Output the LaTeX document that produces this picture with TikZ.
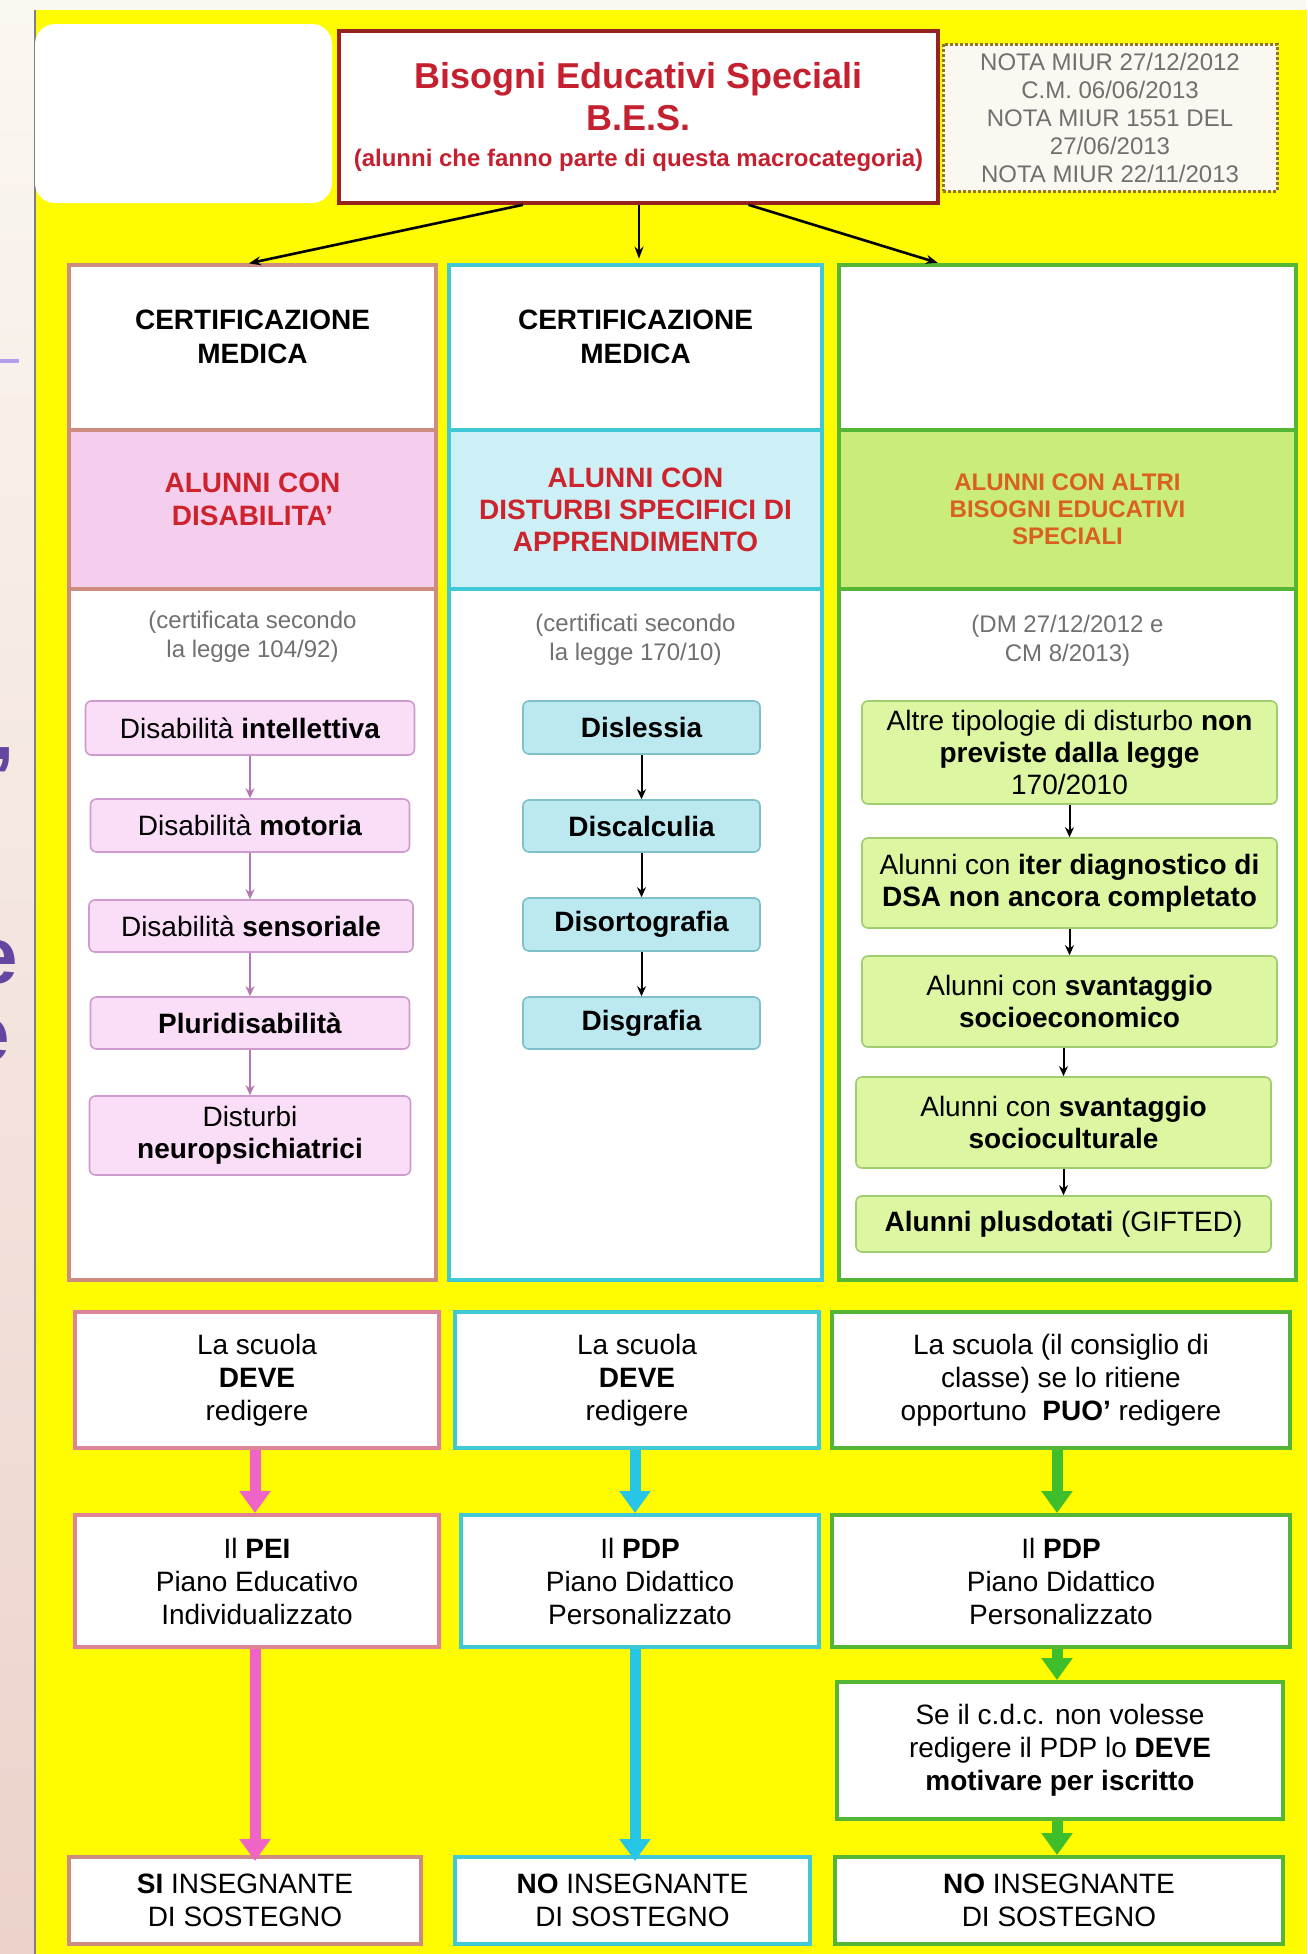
\documentclass[tikz,border=0pt]{standalone}
\usepackage{fontspec}
\setmainfont{Liberation Sans}
\usetikzlibrary{arrows.meta}

\definecolor{giallo}{RGB}{255,251,0}
\definecolor{fondo}{RGB}{251,247,241}
\definecolor{fondorosa}{RGB}{236,210,203}
\definecolor{rossotitolo}{RGB}{196,32,48}
\definecolor{bordotitolo}{RGB}{150,35,30}
\definecolor{bordonota}{RGB}{145,118,40}
\definecolor{grigio}{RGB}{112,112,112}
\definecolor{rossobanda}{RGB}{205,35,45}
\definecolor{arancio}{RGB}{218,96,30}
\definecolor{viola}{RGB}{100,70,160}
\definecolor{violachiaro}{RGB}{178,158,236}
\definecolor{rosa}{RGB}{205,140,128}
\definecolor{rosafascia}{RGB}{246,206,237}
\definecolor{rosabox}{RGB}{250,222,247}
\definecolor{rosabordo}{RGB}{205,155,205}
\definecolor{rosafreccina}{RGB}{180,120,175}
\definecolor{rosafreccia}{RGB}{240,100,200}
\definecolor{rosariquadro}{RGB}{222,132,150}
\definecolor{ciano}{RGB}{64,200,214}
\definecolor{cianofascia}{RGB}{204,240,246}
\definecolor{cianobox}{RGB}{188,233,239}
\definecolor{cianobordo}{RGB}{125,192,202}
\definecolor{cianofreccia}{RGB}{40,198,230}
\definecolor{verde}{RGB}{84,182,52}
\definecolor{verdefascia}{RGB}{202,236,122}
\definecolor{verdebox}{RGB}{220,246,162}
\definecolor{verdebordo}{RGB}{160,205,112}
\definecolor{verdefreccia}{RGB}{62,190,42}

\begin{document}
\begin{tikzpicture}[x=0.5pt,y=0.5pt,yscale=-1,xscale=1,
		every node/.style={inner sep=0.75pt, align=center},
		titolo/.style={draw=bordotitolo, line width=1.8pt, fill=white, minimum width=299.5pt, minimum height=86pt, text=rossotitolo, font=\bfseries\fontsize{18}{21}\selectfont},
		nota/.style={draw=bordonota, line width=1.5pt, dash pattern=on 1.5pt off 1pt, fill=fondo, minimum width=167pt, minimum height=73.5pt, text=grigio, font=\fontsize{12}{14}\selectfont},
		intestazione/.style={minimum width=#1, minimum height=82.5pt, font=\bfseries\fontsize{14}{17}\selectfont},
		banda/.style={line width=1.8pt, minimum height=79.5pt, text=rossobanda, font=\bfseries\fontsize{14}{16.5}\selectfont},
		legge/.style={text=grigio, font=\fontsize{12}{14.5}\selectfont},
		voce/.style={draw=#1bordo, fill=#1box, rounded corners=3pt, line width=0.8pt, inner sep=0pt, font=\fontsize{14}{16}\selectfont},
		riquadro/.style={draw=#1, fill=white, line width=2pt, inner sep=0pt, font=\fontsize{14}{16.5}\selectfont},
		collega/.style={-{Stealth[length=6pt,width=4.5pt]}, line width=1.3pt, shorten >=3pt},
		freccina/.style={-{Stealth[length=5pt,width=4.5pt]}, line width=1pt},
		freccione/.style={line width=5.5pt, -{Triangle[width=15pt,length=11pt]}}]
		\useasboundingbox (0,0) rectangle (1307,1954);

		% Background: pale page, shaded strip on the left and the yellow sheet
		\fill[fondo] (0,0) rectangle (1307,1954);
		\shade[top color=fondo, bottom color=fondorosa] (0,0) rectangle (35,1954);
		\fill[giallo] (35,10) rectangle (1307,1954);
		\draw[gray, line width=0.8pt] (35,10) -- (35,1954);

		% Cut off letters at the left edge
		\begin{scope}
			\clip (0,0) rectangle (35,1954);
			\draw[violachiaro, line width=1.6pt] (0,361) -- (19,361);
			\node[text=viola, font=\bfseries\fontsize{40}{40}\selectfont] (virgola) at (4,760) {,};
			\node[text=viola, font=\bfseries\fontsize{40}{40}\selectfont] (lettera1) at (-4,962) {e};
			\node[text=viola, font=\bfseries\fontsize{40}{40}\selectfont] (lettera2) at (-12,1040) {e};
		\end{scope}

		% Whited out patch at the top left
		\fill[white, rounded corners=10pt] (35,24) rectangle (332,203);

		% Title and the note with the references
		\node[titolo] (bes) at (638.5,117) {Bisogni Educativi Speciali\\B.E.S.\\[-3pt]{\fontsize{12}{14}\selectfont (alunni che fanno parte di questa macrocategoria)}};
		\node[nota] (nota) at (1110,117.5) {NOTA MIUR 27/12/2012\\C.M. 06/06/2013\\NOTA MIUR 1551 DEL\\27/06/2013\\NOTA MIUR 22/11/2013};

		% Columns: white body with a coloured frame
		\fill[white] (69,265) rectangle (436,1280);
		\fill[white] (449,265) rectangle (822,1280);
		\fill[white] (839,265) rectangle (1296,1280);

		% Coloured bands
		\node[banda, draw=rosa, fill=rosafascia, minimum width=183.5pt] (banda1) at (252.5,509.5) {ALUNNI CON\\DISABILITA'\\[-11pt]\strut};
		\node[banda, draw=ciano, fill=cianofascia, minimum width=186.5pt, font=\bfseries\fontsize{14}{16}\selectfont] (banda2) at (635.5,509.5) {ALUNNI CON\\DISTURBI SPECIFICI DI\\APPRENDIMENTO};
		\node[banda, draw=verde, fill=verdefascia, minimum width=228.5pt, text=arancio, font=\bfseries\fontsize{12}{13.5}\selectfont] (banda3) at (1067.5,509.5) {ALUNNI CON ALTRI\\BISOGNI EDUCATIVI\\SPECIALI};

		% Frames of the columns
		\draw[rosa, line width=1.8pt] (69,265) rectangle (436,1280);
		\draw[ciano, line width=1.8pt] (449,265) rectangle (822,1280);
		\draw[verde, line width=1.8pt] (839,265) rectangle (1296,1280);

		% Header cells
		\node[intestazione=183.5pt] (testa1) at (252.5,347.5) {CERTIFICAZIONE\\MEDICA\\[-11pt]\strut};
		\node[intestazione=186.5pt] (testa2) at (635.5,347.5) {CERTIFICAZIONE\\MEDICA\\[-11pt]\strut};
		\node[intestazione=228.5pt] (testa3) at (1067.5,347.5) {};

		% Arrows from the title to the columns
		\draw[collega] ([xshift=-57.75pt]bes.south) -- ([xshift=-4.75pt]testa1.north);
		\draw[collega] ([xshift=0.25pt]bes.south) -- ([xshift=1.75pt]testa2.north);
		\draw[collega] ([xshift=55pt]bes.south) -- ([xshift=-62pt]testa3.north);

		% Laws under the bands
		\node[legge] (legge1) at (252.5,637) {(certificata secondo\\la legge 104/92)};
		\node[legge] (legge2) at (635.5,640) {(certificati secondo\\la legge 170/10)};
		\node[legge] (legge3) at (1067.5,641) {(DM 27/12/2012 e\\CM 8/2013)};

		% First column: kinds of disability
		\node[voce=rosa, minimum width=164.5pt, minimum height=27pt] (intellettiva) at (250,728) {Disabilità \textbf{intellettiva}};
		\node[voce=rosa, minimum width=159.5pt, minimum height=26.5pt] (motoria) at (250,825.5) {Disabilità \textbf{motoria}};
		\node[voce=rosa, minimum width=162pt, minimum height=26pt] (sensoriale) at (251,926) {Disabilità \textbf{sensoriale}};
		\node[voce=rosa, minimum width=159.5pt, minimum height=26pt] (pluri) at (250,1023) {\textbf{Pluridisabilità}};
		\node[voce=rosa, minimum width=160.5pt, minimum height=39.5pt] (neuro) at (250,1135.5) {Disturbi\\\textbf{neuropsichiatrici}};
		\draw[freccina, rosafreccina] (intellettiva) -- (motoria);
		\draw[freccina, rosafreccina] (motoria) -- (sensoriale.north -| motoria);
		\draw[freccina, rosafreccina] (sensoriale.south -| motoria) -- (pluri);
		\draw[freccina, rosafreccina] (pluri) -- (neuro);

		% Second column: specific learning disorders
		\node[voce=ciano, minimum width=118.5pt, minimum height=26.5pt, font=\bfseries\fontsize{14}{16}\selectfont] (dislessia) at (641.5,727.5) {Dislessia};
		\node[voce=ciano, minimum width=118.5pt, minimum height=26pt, font=\bfseries\fontsize{14}{16}\selectfont] (discalculia) at (641.5,826) {Discalculia};
		\node[voce=ciano, minimum width=118.5pt, minimum height=26.5pt, font=\bfseries\fontsize{14}{16}\selectfont] (disortografia) at (641.5,924.5) {Disortografia};
		\node[voce=ciano, minimum width=118.5pt, minimum height=26pt, font=\bfseries\fontsize{14}{16}\selectfont] (disgrafia) at (641.5,1023) {Disgrafia};
		\draw[freccina] (dislessia) -- (discalculia);
		\draw[freccina] (discalculia) -- (disortografia);
		\draw[freccina] (disortografia) -- (disgrafia);

		% Third column: other special needs
		\node[voce=verde, minimum width=207.5pt, minimum height=51.5pt] (altre) at (1069.5,752.5) {Altre tipologie di disturbo \textbf{non}\\\textbf{previste dalla legge}\\170/2010};
		\node[voce=verde, minimum width=207.5pt, minimum height=45pt] (iter) at (1069.5,883) {Alunni con \textbf{iter diagnostico di}\\\textbf{DSA non ancora completato}};
		\node[voce=verde, minimum width=207.5pt, minimum height=45.5pt] (economico) at (1069.5,1001.5) {Alunni con \textbf{svantaggio}\\\textbf{socioeconomico}};
		\node[voce=verde, minimum width=207.5pt, minimum height=45.5pt] (culturale) at (1063.5,1122.5) {Alunni con \textbf{svantaggio}\\\textbf{socioculturale}};
		\node[voce=verde, minimum width=207.5pt, minimum height=28pt] (gifted) at (1063.5,1224) {\textbf{Alunni plusdotati} (GIFTED)};
		\draw[freccina] (altre) -- (iter);
		\draw[freccina] (iter) -- (economico);
		\draw[freccina] (economico.south -| culturale) -- (culturale);
		\draw[freccina] (culturale) -- (gifted);

		% What the school has to write
		\node[riquadro=rosariquadro, minimum width=182pt, minimum height=68pt] (deve1) at (257,1380) {La scuola\\\textbf{DEVE}\\redigere};
		\node[riquadro=ciano, minimum width=182pt, minimum height=68pt] (deve2) at (637,1380) {La scuola\\\textbf{DEVE}\\redigere};
		\node[riquadro=verde, minimum width=229pt, minimum height=68pt] (puo3) at (1061,1380) {La scuola (il consiglio di\\classe) se lo ritiene\\opportuno \ \textbf{PUO'} redigere};

		\node[riquadro=rosariquadro, minimum width=182pt, minimum height=66pt] (pei) at (257,1581) {Il \textbf{PEI}\\Piano Educativo\\Individualizzato};
		\node[riquadro=ciano, minimum width=179pt, minimum height=66pt] (pdp2) at (640,1581) {Il \textbf{PDP}\\Piano Didattico\\Personalizzato};
		\node[riquadro=verde, minimum width=229pt, minimum height=66pt] (pdp3) at (1061,1581) {Il \textbf{PDP}\\Piano Didattico\\Personalizzato};
		\node[riquadro=verde, minimum width=223pt, minimum height=68.5pt] (motivare) at (1060,1750.5) {Se il c.d.c. non volesse\\redigere il PDP lo \textbf{DEVE}\\\textbf{motivare per iscritto}};

		% Support teacher or not
		\node[riquadro=rosa, minimum width=176pt, minimum height=43.5pt] (si) at (245,1900.5) {\textbf{SI} INSEGNANTE\\DI SOSTEGNO};
		\node[riquadro=ciano, minimum width=177.5pt, minimum height=43.5pt] (no2) at (632.5,1900.5) {\textbf{NO} INSEGNANTE\\DI SOSTEGNO};
		\node[riquadro=verde, minimum width=224pt, minimum height=43.5pt] (no3) at (1059,1900.5) {\textbf{NO} INSEGNANTE\\DI SOSTEGNO};

		% Thick coloured arrows
		\draw[freccione, rosafreccia] ([xshift=-1pt]deve1.south) -- ([xshift=-1pt]pei.north);
		\draw[freccione, rosafreccia] ([xshift=-1pt]pei.south) -- ([xshift=-1pt,yshift=3pt]pei.south |- si.north);
		\draw[freccione, cianofreccia] ([xshift=-1pt]deve2.south) -- ([xshift=-2.5pt]pdp2.north);
		\draw[freccione, cianofreccia] ([xshift=-2.5pt]pdp2.south) -- ([xshift=-2.5pt,yshift=3pt]pdp2.south |- no2.north);
		\draw[freccione, verdefreccia] ([xshift=-2pt]puo3.south) -- ([xshift=-2pt]pdp3.north);
		\draw[freccione, verdefreccia] ([xshift=-2pt]pdp3.south) -- ([xshift=-2pt]pdp3.south |- motivare.north);
		\draw[freccione, verdefreccia] ([xshift=-1.5pt]motivare.south) -- ([xshift=-1.5pt]motivare.south |- no3.north);
\end{tikzpicture}
\end{document}
